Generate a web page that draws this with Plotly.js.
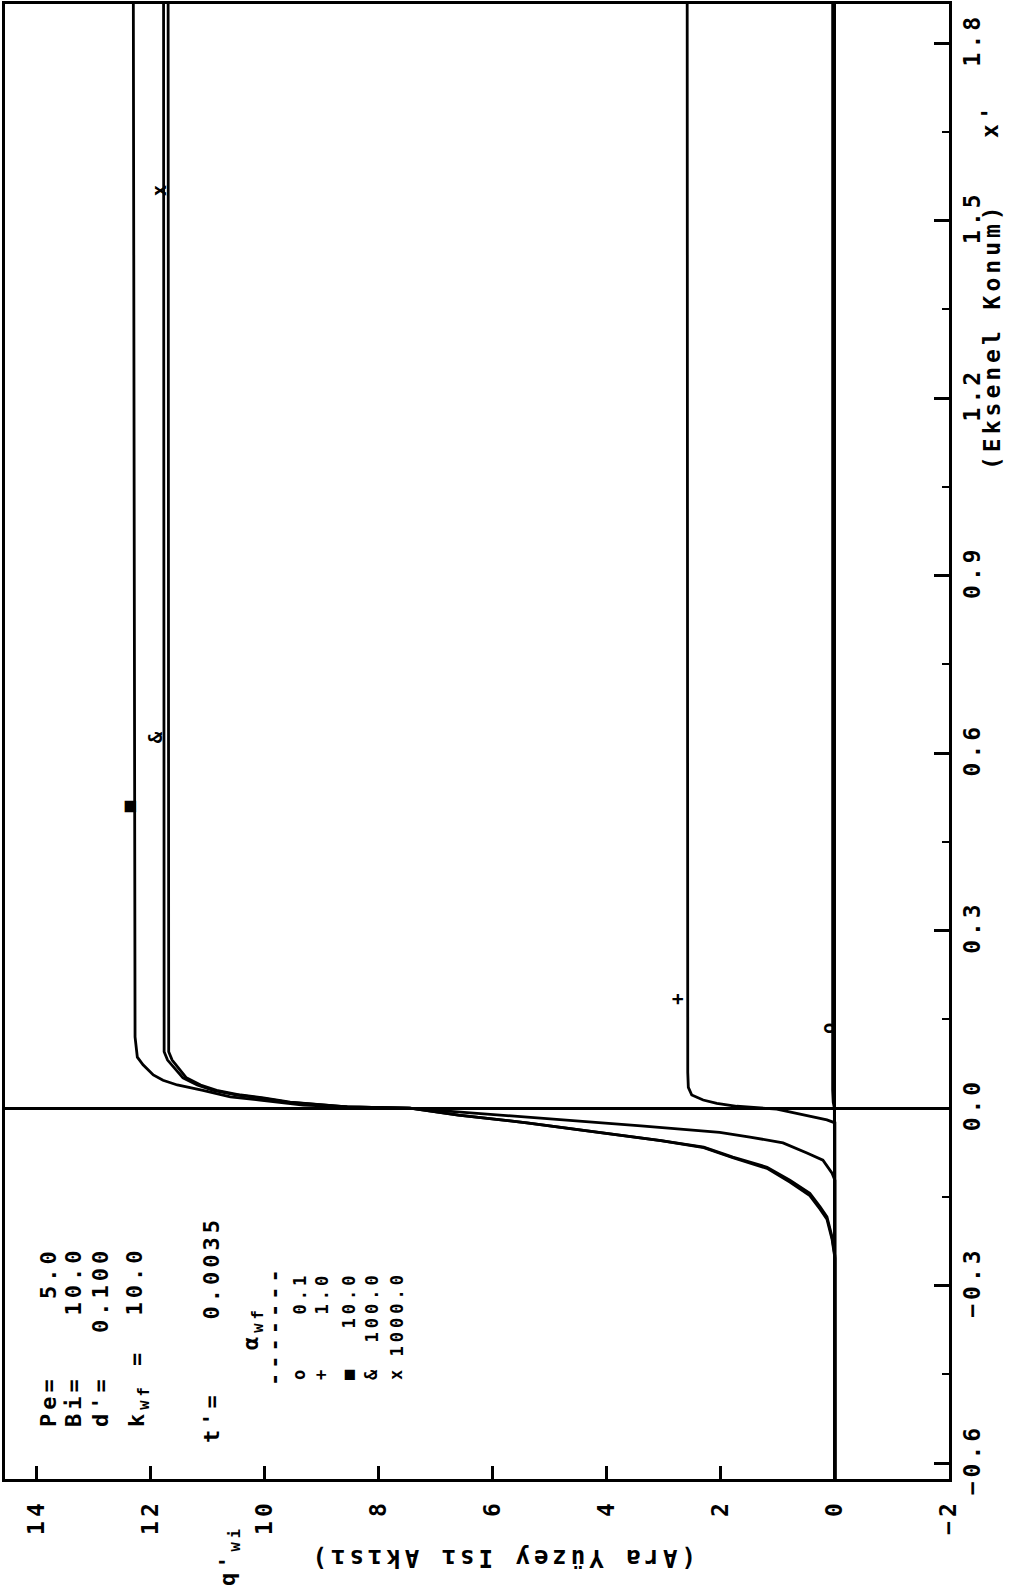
<!DOCTYPE html>
<html>
<head>
<meta charset="utf-8">
<script src="https://cdn.plot.ly/plotly-3.0.1.min.js"></script>
<style>
html,body{margin:0;padding:0;background:#fff;overflow:hidden}
#chart{width:1016px;height:1589px}
text{letter-spacing:4px}
</style>
</head>
<body>
<div id="chart"></div>
<script>
// ---------------- DATA ----------------
// x' (Eksenel Konum) and q'_wi (Ara Yüzey Isı Akısı) for each alpha_wf
const alphas = [0.1, 1.0, 10.0, 100.0, 1000.0];
const symbols = ['o', '+', '\u25A0', '&', 'x'];

const xpA01 = [-0.627, -0.010, 0.000, 0.010, 0.030, 1.866];
const qA01  = [0, 0, 0.01, 0.03, 0.04, 0.04];

const xpA1 = [-0.627, -0.025, -0.020, -0.015, -0.007, -0.002, 0.003, 0.008, 0.0135, 0.022, 0.035, 0.060, 1.866];
const qA1  = [0, 0, 0.14, 0.39, 0.74, 1.02, 1.72, 2.07, 2.31, 2.51, 2.57, 2.58, 2.59];

const xpA10 = [-0.627, -0.122, -0.110, -0.088, -0.076, -0.059, -0.049, -0.041, -0.030, -0.020, -0.010, 0.000, 0.002, 0.005, 0.0135, 0.019, 0.030, 0.039, 0.047, 0.056, 0.073, 0.086, 0.120, 1.866];
const qA10  = [0, 0, 0.05, 0.21, 0.49, 0.91, 1.49, 2.02, 3.40, 4.80, 6.15, 7.48, 8.55, 9.32, 10.08, 10.60, 11.08, 11.53, 11.78, 11.95, 12.13, 12.23, 12.27, 12.30];

const xpA100 = [-0.627, -0.250, -0.218, -0.184, -0.167, -0.144, -0.122, -0.100, -0.083, -0.066, -0.055, -0.042, -0.025, -0.012, 0.000, 0.002, 0.007, 0.010, 0.017, 0.022, 0.030, 0.039, 0.051, 0.069, 0.081, 0.095, 1.866];
const qA100  = [0, 0, 0.05, 0.14, 0.26, 0.44, 0.79, 1.19, 1.79, 2.30, 3.05, 4.10, 5.40, 6.60, 7.45, 8.55, 9.25, 9.60, 10.08, 10.48, 10.90, 11.18, 11.43, 11.60, 11.70, 11.76, 11.77];

const xpA1000 = [-0.627, -0.254, -0.222, -0.188, -0.171, -0.148, -0.125, -0.102, -0.084, -0.067, -0.055, -0.042, -0.025, -0.012, 0.000, 0.002, 0.007, 0.010, 0.017, 0.022, 0.030, 0.039, 0.051, 0.069, 0.081, 0.095, 1.866];
const qA1000  = [0, 0, 0.05, 0.14, 0.26, 0.44, 0.79, 1.19, 1.79, 2.30, 3.05, 4.10, 5.40, 6.60, 7.45, 8.55, 9.22, 9.55, 10.02, 10.42, 10.84, 11.12, 11.37, 11.53, 11.62, 11.68, 11.69];

// curve marker positions (x', q')
const markXp = [0.137, 0.188, 0.512, 0.629, 1.553];
const markQ  = [0.12, 2.77, 12.39, 11.93, 11.85];

// parameters block
const paramNames  = ['Pe=', 'Bi=', "d'=", 'k<sub>wf</sub> ='];
const paramValues = ['5.0', '10.0', '0.100', '10.0'];
const tName = "t'=";
const tValue = '0.0035';

// axis ticks
const qTicks  = [-2, 0, 2, 4, 6, 8, 10, 12, 14];
const xpTicks = [-0.6, -0.3, 0.0, 0.3, 0.6, 0.9, 1.2, 1.5, 1.8];
const xpMinor = [-0.45, -0.15, 0.15, 0.45, 0.75, 1.05, 1.35, 1.65];

// ---------------- LAYOUT HELPERS ----------------
const W = 1016, H = 1589, ML = 5, MR = 67, MT = 4, MB = 110;
const PW = W - ML - MR, PH = H - MT - MB;
function px(sx) { return (sx - ML) / PW; }
function py(sy) { return (H - MB - sy) / PH; }
const FAM = 'DejaVu Sans Mono, Liberation Mono, monospace';
function f(size) { return {family: FAM, size: size, color: '#000', weight: 700}; }

const series = [[xpA01, qA01], [xpA1, qA1], [xpA10, qA10], [xpA100, qA100], [xpA1000, qA1000]];
const traces = series.map((s, i) => ({
  type: 'scatter', mode: 'lines',
  x: s[1], y: s[0],
  name: '\u03B1wf = ' + alphas[i].toFixed(1),
  line: {color: '#000', width: 2.8},
  showlegend: false
}));

const ann = [];
function A(o) { ann.push(Object.assign({showarrow: false, xref: 'paper', yref: 'paper', textangle: -90, borderpad: 0}, o)); }

// curve markers through data axes
symbols.forEach((s, i) => {
  ann.push({xref: 'x', yref: 'y', x: markQ[i], y: markXp[i], text: s, showarrow: false,
            textangle: -90, font: f(19), xanchor: 'center', yanchor: 'middle', borderpad: 0});
});

// axis titles
A({x: px(229), y: py(1556), text: "q'<sub>wi</sub>", font: f(22), xanchor: 'center', yanchor: 'middle'});
A({x: px(503), y: py(1558), text: '(Ara Yüzey Isı Akısı)', font: f(24), textangle: 180, xanchor: 'center', yanchor: 'middle'});
A({x: px(992), y: py(336), text: '(Eksenel Konum)', font: f(23), xanchor: 'center', yanchor: 'middle'});
A({x: px(990), y: py(120), text: "x'", font: f(23), xanchor: 'center', yanchor: 'middle'});

// parameter block
const paramCols = [48, 73, 100, 134];
paramNames.forEach((n, i) => {
  A({x: px(paramCols[i] + (i === 3 ? 4 : 0)), y: py(1428), text: n, font: f(22), xanchor: 'center', yanchor: 'bottom'});
  A({x: px(paramCols[i]), y: py(1246), text: paramValues[i], font: f(22), xanchor: 'center', yanchor: 'top'});
});
A({x: px(211), y: py(1444), text: tName, font: f(22), xanchor: 'center', yanchor: 'bottom'});
A({x: px(211), y: py(1216), text: tValue, font: f(22), xanchor: 'center', yanchor: 'top'});

// alpha table
A({x: px(252), y: py(1328), text: '\u03B1<sub>wf</sub>', font: f(22), xanchor: 'center', yanchor: 'middle'});
A({x: px(274), y: py(1326), text: '-------', font: f(22), xanchor: 'center', yanchor: 'middle'});
const rowCols = [299, 321, 348, 371, 396];
alphas.forEach((a, i) => {
  A({x: px(rowCols[i]), y: py(1373), text: symbols[i], font: f(17), xanchor: 'center', yanchor: 'middle'});
  A({x: px(rowCols[i]), y: py(1271), text: a.toFixed(1), font: f(17), xanchor: 'center', yanchor: 'top'});
});

const layout = {
  width: W, height: H,
  margin: {l: ML, r: MR, t: MT, b: MB, pad: 0},
  paper_bgcolor: '#fff', plot_bgcolor: '#fff',
  showlegend: false,
  xaxis: {
    range: [14.55, -2], tickmode: 'array', tickvals: qTicks, ticktext: qTicks.map(v => v < 0 ? '\u2212' + Math.abs(v) : String(v)),
    ticks: 'inside', ticklen: 13, tickwidth: 2.5, tickcolor: '#000', tickangle: -90,
    tickfont: f(23), ticklabelstandoff: 8,
    showline: true, linewidth: 3, linecolor: '#000', mirror: true,
    showgrid: false, zeroline: true, zerolinecolor: '#000', zerolinewidth: 2.5, fixedrange: true
  },
  yaxis: {
    range: [-0.627, 1.866], side: 'right', tickmode: 'array', tickvals: xpTicks,
    ticktext: xpTicks.map(v => (v < 0 ? '\u2212' : '') + Math.abs(v).toFixed(1)),
    ticks: 'inside', ticklen: 15, tickwidth: 2.5, tickcolor: '#000', tickangle: -90,
    tickfont: f(23), ticklabelstandoff: 0,
    minor: {tickmode: 'array', tickvals: xpMinor, ticks: 'inside', ticklen: 7, tickwidth: 2, tickcolor: '#000', showgrid: false},
    showline: true, linewidth: 3, linecolor: '#000', mirror: true,
    showgrid: false, zeroline: true, zerolinecolor: '#000', zerolinewidth: 2.5, fixedrange: true
  },
  annotations: ann
};

Plotly.newPlot('chart', traces, layout, {displayModeBar: false});
</script>
</body>
</html>
